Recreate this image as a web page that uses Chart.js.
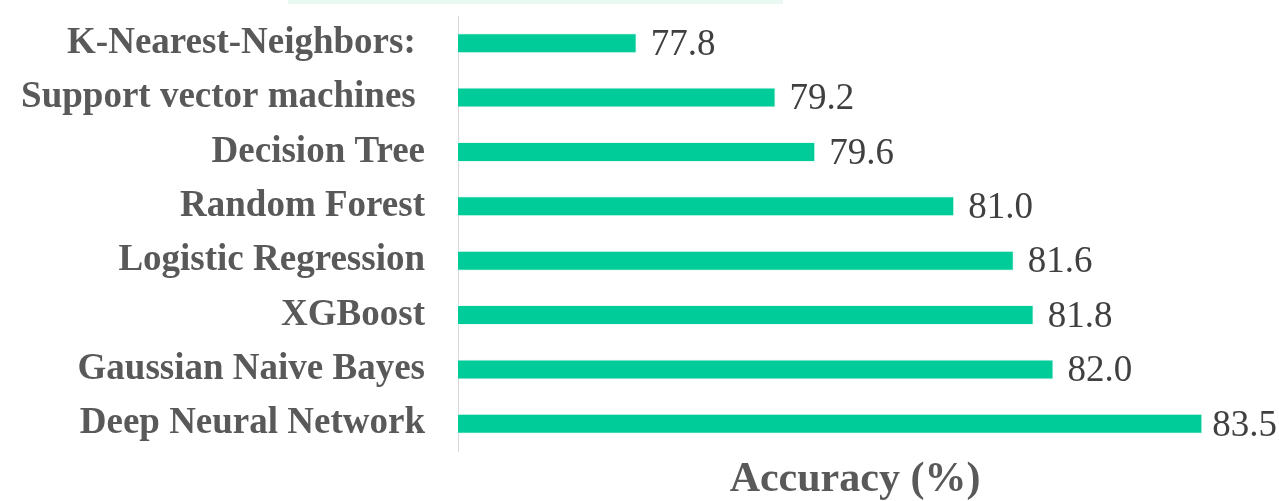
<!DOCTYPE html>
<html>
<head>
<meta charset="utf-8">
<script src="https://cdn.jsdelivr.net/npm/chart.js@4"></script>
<style>
  html, body { margin: 0; padding: 0; background: #ffffff; }
  #wrap { width: 1279px; height: 501px; }
</style>
</head>
<body>
<div id="wrap"><canvas id="accChart" width="1279" height="501"></canvas></div>
<script>
// Chart data
const models = [
    "K-Nearest-Neighbors: ",
    "Support vector machines ",
    "Decision Tree",
    "Random Forest",
    "Logistic Regression",
    "XGBoost",
    "Gaussian Naive Bayes",
    "Deep Neural Network"
];
const accuracy = [77.8, 79.2, 79.6, 81.0, 81.6, 81.8, 82.0, 83.5];
const axisRange = [76, 84];
const axisTitle = "Accuracy (%)";

const serif = "'Liberation Serif', 'Times New Roman', serif";

// light band left over at the top of the figure
const topBand = {
    id: "topBand",
    beforeDraw(chart) {
        const ctx = chart.ctx;
        ctx.save();
        ctx.fillStyle = "#eaf8f2";
        ctx.fillRect(288, 0, 495, 4);
        ctx.restore();
    }
};

// value labels at the end of each bar
const valueLabels = {
    id: "valueLabels",
    afterDatasetsDraw(chart) {
        const ctx = chart.ctx;
        const meta = chart.getDatasetMeta(0);
        ctx.save();
        ctx.font = "37px " + serif;
        ctx.fillStyle = "#404040";
        ctx.textBaseline = "middle";
        meta.data.forEach((bar, i) => {
            const txt = accuracy[i].toFixed(1);
            const w = ctx.measureText(txt).width;
            let x = bar.x + 14;
            if (x + w > chart.width - 2) x = chart.width - 2 - w;
            ctx.fillText(txt, x, bar.y + 2);
        });
        ctx.restore();
    }
};

new Chart(document.getElementById("accChart"), {
    type: "bar",
    data: {
        labels: models,
        datasets: [{
            data: accuracy,
            backgroundColor: "#00cc99",
            borderColor: "#e6f9f3",
            borderWidth: 1,
            barPercentage: 0.37,
            categoryPercentage: 1
        }]
    },
    options: {
        indexAxis: "y",
        responsive: false,
        animation: false,
        layout: { padding: { top: 16, right: 27, bottom: 0, left: 0 } },
        plugins: {
            legend: { display: false },
            tooltip: { enabled: false }
        },
        scales: {
            x: {
                min: axisRange[0],
                max: axisRange[1],
                grid: { display: false, drawTicks: false },
                border: { display: false },
                ticks: { display: false },
                title: {
                    display: true,
                    text: axisTitle,
                    color: "#595959",
                    font: { family: serif, size: 42, weight: "bold", lineHeight: 1.0 },
                    padding: { top: 8, bottom: 0 }
                },
                afterFit(s) {
                    s.paddingLeft = 0;
                    s.paddingRight = 0;
                }
            },
            y: {
                grid: { display: false, drawTicks: false },
                border: { display: true, color: "#d9d9d9", width: 1 },
                ticks: {
                    color: "#595959",
                    padding: 33,
                    font: { family: serif, size: 37, weight: "bold" }
                },
                afterFit(s) {
                    s.width = 458;
                    s.paddingTop = 0;
                    s.paddingBottom = 0;
                }
            }
        }
    },
    plugins: [topBand, valueLabels]
});
</script>
</body>
</html>
